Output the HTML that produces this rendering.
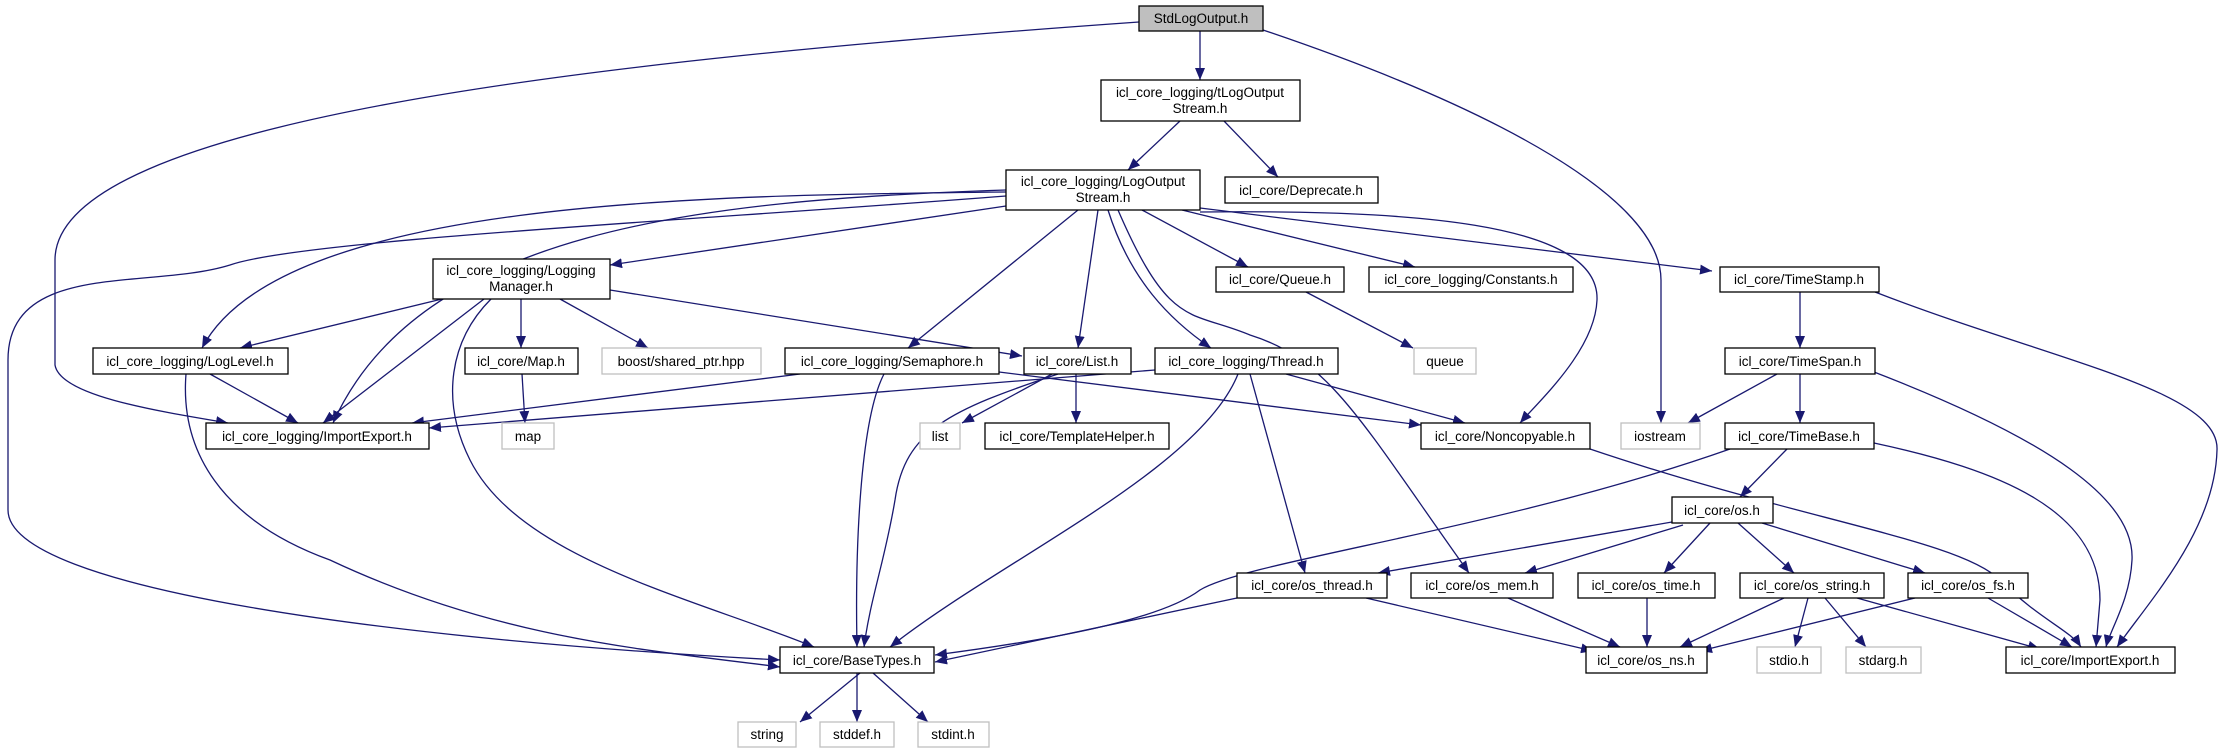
<!DOCTYPE html>
<html><head><meta charset="utf-8"><style>
html,body{margin:0;padding:0;background:#fff}
svg{display:block}
text{font-family:"Liberation Sans",sans-serif;font-size:13.5px;fill:#000}
</style></head><body>
<svg width="2223" height="753" viewBox="0 0 2223 753" xmlns="http://www.w3.org/2000/svg">
<defs>
<marker id="a" viewBox="0 0 12 10" refX="12" refY="5" markerWidth="12" markerHeight="10" markerUnits="userSpaceOnUse" orient="auto">
<path d="M0,0 L12,5 L0,10 z" fill="#191970"/>
</marker>
</defs>
<g fill="none" stroke="#191970" stroke-width="1.3" marker-end="url(#a)">
<path d="M1200,31 L1200,80"/>
<path d="M1139,22 C600,60 55,120 55,260 L55,365 C60,395 150,410 228,423"/>
<path d="M1263,30 C1500,110 1661,200 1661,280 L1661,423"/>
<path d="M1180,121 L1128,170"/>
<path d="M1224,121 L1278,177"/>
<path d="M1006,206 L610,265"/>
<path d="M1006,192 C700,195 280,200 202,348"/>
<path d="M1006,190 C700,200 420,230 333,423"/>
<path d="M1006,196 C700,220 300,240 230,265 C150,290 8,260 8,360 L8,510 C8,590 400,640 780,660"/>
<path d="M1078,210 L908,348"/>
<path d="M1098,210 L1078,348"/>
<path d="M1108,210 C1130,280 1170,320 1211,348"/>
<path d="M1118,210 C1170,330 1190,310 1250,335 C1330,360 1360,420 1469,573"/>
<path d="M1142,210 L1248,267"/>
<path d="M1182,210 L1415,267"/>
<path d="M1200,208 L1712,271"/>
<path d="M1200,212 C1400,210 1600,220 1597,300 C1595,350 1540,400 1520,423"/>
<path d="M442,299 L240,348"/>
<path d="M484,299 L323,423"/>
<path d="M491,299 C450,340 440,400 470,460 C520,560 700,600 814,647"/>
<path d="M521,299 L521,348"/>
<path d="M560,299 L648,348"/>
<path d="M610,290 L1022,356"/>
<path d="M210,374 L298,423"/>
<path d="M186,374 C180,450 220,520 330,560 C500,640 650,650 780,667"/>
<path d="M522,374 L525,423"/>
<path d="M800,374 L412,423"/>
<path d="M884,374 C860,420 855,550 857,647"/>
<path d="M1155,370 L429,428"/>
<path d="M1052,374 L962,423"/>
<path d="M1076,374 L1076,423"/>
<path d="M1058,374 C950,410 905,430 895,500 C885,560 870,600 864,647"/>
<path d="M999,372 L1421,425"/>
<path d="M1286,374 L1465,423"/>
<path d="M1238,374 C1200,470 1000,560 890,647"/>
<path d="M1250,374 L1305,573"/>
<path d="M1306,292 L1413,348"/>
<path d="M1800,292 L1800,348"/>
<path d="M1875,292 C2050,360 2220,390 2217,450 C2215,530 2150,600 2117,647"/>
<path d="M1777,374 L1688,423"/>
<path d="M1800,374 L1800,423"/>
<path d="M1874,372 C2050,440 2135,500 2132,560 C2130,600 2110,630 2106,647"/>
<path d="M1590,449 C1800,520 1960,540 2000,580 C2040,620 2070,630 2081,647"/>
<path d="M1787,449 L1740,497"/>
<path d="M1874,443 C2000,470 2100,510 2100,600 L2096,647"/>
<path d="M1730,449 C1500,530 1250,560 1200,590 C1160,620 1050,640 935,655"/>
<path d="M1672,522 L1378,573"/>
<path d="M1683,525 L1525,573"/>
<path d="M1710,523 L1664,573"/>
<path d="M1738,523 L1794,573"/>
<path d="M1762,523 L1925,573"/>
<path d="M1237,598 L935,662"/>
<path d="M1366,598 L1593,651"/>
<path d="M1508,598 L1620,647"/>
<path d="M1647,598 L1647,647"/>
<path d="M1784,598 L1680,647"/>
<path d="M1808,598 L1795,647"/>
<path d="M1825,598 L1866,647"/>
<path d="M1857,598 L2040,649"/>
<path d="M1915,598 L1700,651"/>
<path d="M1988,598 L2072,647"/>
<path d="M860,673 L800,722"/>
<path d="M857,673 L857,722"/>
<path d="M873,673 L928,722"/>
</g>
<g stroke="#000" stroke-width="1.3" fill="#fff">
<rect x="1139" y="6" width="124" height="25" fill="#bfbfbf"/>
<rect x="1101" y="80" width="199" height="41"/>
<rect x="1225" y="177" width="153" height="26"/>
<rect x="1006" y="170" width="194" height="40"/>
<rect x="433" y="259" width="177" height="40"/>
<rect x="1216" y="267" width="128" height="25"/>
<rect x="1369" y="267" width="204" height="25"/>
<rect x="1720" y="267" width="159" height="25"/>
<rect x="93" y="348" width="195" height="26"/>
<rect x="465" y="348" width="113" height="26"/>
<rect x="602" y="348" width="159" height="26" stroke="#bfbfbf"/>
<rect x="785" y="348" width="214" height="26"/>
<rect x="1024" y="348" width="107" height="26"/>
<rect x="1155" y="348" width="183" height="26"/>
<rect x="1414" y="348" width="62" height="26" stroke="#bfbfbf"/>
<rect x="1725" y="348" width="150" height="26"/>
<rect x="206" y="423" width="223" height="26"/>
<rect x="502" y="423" width="52" height="26" stroke="#bfbfbf"/>
<rect x="920" y="423" width="40" height="26" stroke="#bfbfbf"/>
<rect x="985" y="423" width="184" height="26"/>
<rect x="1421" y="423" width="169" height="26"/>
<rect x="1621" y="423" width="79" height="26" stroke="#bfbfbf"/>
<rect x="1725" y="423" width="149" height="26"/>
<rect x="1672" y="497" width="101" height="26"/>
<rect x="1237" y="573" width="150" height="25"/>
<rect x="1411" y="573" width="142" height="25"/>
<rect x="1578" y="573" width="137" height="25"/>
<rect x="1740" y="573" width="144" height="25"/>
<rect x="1908" y="573" width="120" height="25"/>
<rect x="780" y="647" width="154" height="26"/>
<rect x="1586" y="647" width="121" height="26"/>
<rect x="1757" y="647" width="64" height="26" stroke="#bfbfbf"/>
<rect x="1846" y="647" width="75" height="26" stroke="#bfbfbf"/>
<rect x="2006" y="647" width="169" height="26"/>
<rect x="738" y="722" width="58" height="25" stroke="#bfbfbf"/>
<rect x="820" y="722" width="74" height="25" stroke="#bfbfbf"/>
<rect x="918" y="722" width="71" height="25" stroke="#bfbfbf"/>
</g>
<g text-anchor="middle">
<text x="1201" y="23">StdLogOutput.h</text>
<text x="1200" y="97">icl_core_logging/tLogOutput</text>
<text x="1200" y="113">Stream.h</text>
<text x="1301" y="195">icl_core/Deprecate.h</text>
<text x="1103" y="186">icl_core_logging/LogOutput</text>
<text x="1103" y="202">Stream.h</text>
<text x="521" y="275">icl_core_logging/Logging</text>
<text x="521" y="291">Manager.h</text>
<text x="1280" y="284">icl_core/Queue.h</text>
<text x="1471" y="284">icl_core_logging/Constants.h</text>
<text x="1799" y="284">icl_core/TimeStamp.h</text>
<text x="190" y="366">icl_core_logging/LogLevel.h</text>
<text x="521" y="366">icl_core/Map.h</text>
<text x="681" y="366">boost/shared_ptr.hpp</text>
<text x="892" y="366">icl_core_logging/Semaphore.h</text>
<text x="1077" y="366">icl_core/List.h</text>
<text x="1246" y="366">icl_core_logging/Thread.h</text>
<text x="1445" y="366">queue</text>
<text x="1800" y="366">icl_core/TimeSpan.h</text>
<text x="317" y="441">icl_core_logging/ImportExport.h</text>
<text x="528" y="441">map</text>
<text x="940" y="441">list</text>
<text x="1077" y="441">icl_core/TemplateHelper.h</text>
<text x="1505" y="441">icl_core/Noncopyable.h</text>
<text x="1660" y="441">iostream</text>
<text x="1799" y="441">icl_core/TimeBase.h</text>
<text x="1722" y="515">icl_core/os.h</text>
<text x="1312" y="590">icl_core/os_thread.h</text>
<text x="1482" y="590">icl_core/os_mem.h</text>
<text x="1646" y="590">icl_core/os_time.h</text>
<text x="1812" y="590">icl_core/os_string.h</text>
<text x="1968" y="590">icl_core/os_fs.h</text>
<text x="857" y="665">icl_core/BaseTypes.h</text>
<text x="1646" y="665">icl_core/os_ns.h</text>
<text x="1789" y="665">stdio.h</text>
<text x="1883" y="665">stdarg.h</text>
<text x="2090" y="665">icl_core/ImportExport.h</text>
<text x="767" y="739">string</text>
<text x="857" y="739">stddef.h</text>
<text x="953" y="739">stdint.h</text>
</g>
</svg>
</body></html>
